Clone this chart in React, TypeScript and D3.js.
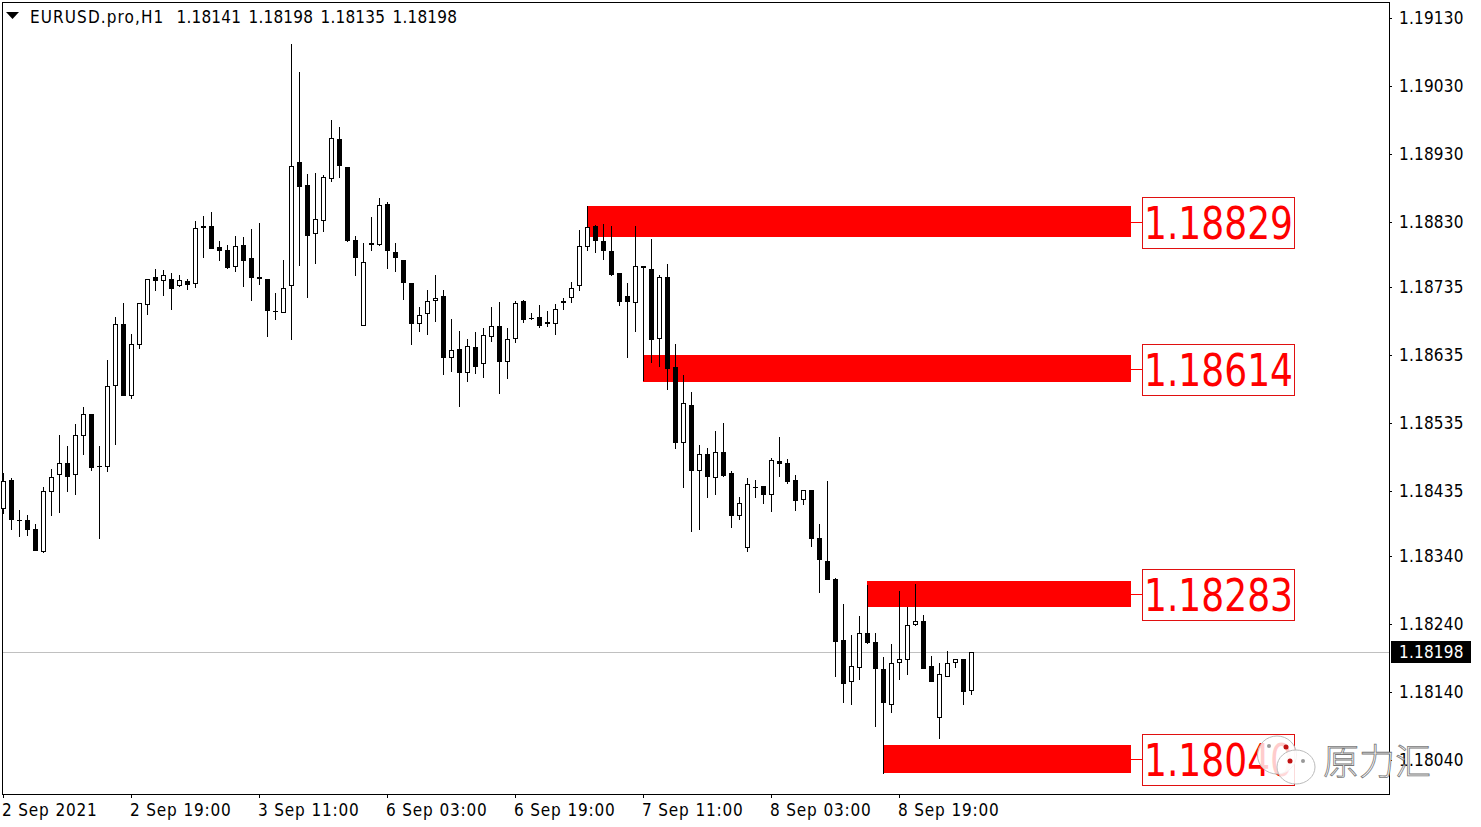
import React from "react";
import * as d3 from "d3";

const symbolName = "EURUSD.pro,H1";
const lastOHLC = [1.18141, 1.18198, 1.18135, 1.18198];
const currentPrice = 1.18198;
const priceTicks = [1.1913, 1.1903, 1.1893, 1.1883, 1.18735, 1.18635, 1.18535, 1.18435, 1.1834, 1.1824, 1.1814, 1.1804];
const timeLabels = ["2 Sep 2021", "2 Sep 19:00", "3 Sep 11:00", "6 Sep 03:00", "6 Sep 19:00", "7 Sep 11:00", "8 Sep 03:00", "8 Sep 19:00"];
const timeLabelBars = [0, 16, 32, 48, 64, 80, 96, 112];

const opens = [
1.18408,1.18451,1.18392,1.18393,1.18379,1.18346,1.18434,1.18458,1.18476,1.18459,1.18516,1.18548,1.18472,1.18471,1.18589,1.18681,1.18574,1.18649,1.18709,1.18749,1.18743,1.18747,1.18736,1.18743,1.18739,1.18822,1.18824,1.18793,1.18789,1.18764,1.18796,1.18778,1.18749,1.18747,1.18700,1.18696,
1.18737,1.18918,1.18885,1.18812,1.18832,1.18894,1.18952,1.18911,1.18804,1.18677,1.18796,1.18797,1.18857,1.18786,1.18775,1.18741,1.18680,1.18695,1.18715,1.18722,1.18630,1.18644,1.18608,1.18647,1.18621,1.18661,1.18678,1.18625,1.18658,1.18714,1.18690,1.18691,1.18680,1.18681,1.18714,
1.18718,1.18737,1.18793,1.18825,1.18803,1.18788,1.18755,1.18721,1.18712,1.18765,1.18762,1.18658,1.18749,1.18617,1.18505,1.18562,1.18464,1.18489,1.18454,1.18492,
1.18461,1.18398,1.18351,1.18441,1.18443,1.18430,1.18479,1.18476,1.18451,1.18422,1.18436,1.18366,1.18332,1.18306,1.18216,1.18154,1.18175,1.18226,1.18213,1.18174,1.18121,1.18182,1.18187,1.18239,1.18244,1.18178,1.18102,1.18162,1.18182,1.18188,1.18141];
const closes = [
1.18450,1.18393,1.18392,1.18378,1.18347,1.18435,1.18455,1.18476,1.18456,1.18517,1.18549,1.18469,1.18472,1.18589,1.18680,1.18574,1.18651,1.18711,1.18746,1.18743,1.18752,1.18732,1.18745,1.18738,1.18821,1.18825,1.18790,1.18788,1.18763,1.18795,1.18773,1.18748,1.18747,1.18699,1.18699,1.18734,
1.18912,1.18882,1.18810,1.18834,1.18897,1.18953,1.18912,1.18802,1.18777,1.18771,1.18799,1.18856,1.18787,1.18777,1.18740,1.18680,1.18693,1.18715,1.18718,1.18630,1.18642,1.18608,1.18648,1.18618,1.18664,1.18677,1.18625,1.18658,1.18712,1.18687,1.18688,1.18677,1.18683,1.18702,1.18712,
1.18734,1.18795,1.18823,1.18803,1.18787,1.18753,1.18713,1.18713,1.18765,1.18763,1.18657,1.18749,1.18615,1.18506,1.18564,1.18465,1.18489,1.18456,1.18492,1.18457,
1.18399,1.18417,1.18445,1.18439,1.18430,1.18480,1.18475,1.18449,1.18421,1.18436,1.18364,1.18334,1.18304,1.18214,1.18152,1.18178,1.18226,1.18212,1.18174,1.18124,1.18182,1.18188,1.18238,1.18244,1.18174,1.18154,1.18167,1.18182,1.18188,1.18140,1.18198];
const highs = [
1.18461,1.18454,1.18407,1.18400,1.18386,1.18441,1.18467,1.18517,1.18502,1.18533,1.18558,1.18548,1.18501,1.18628,1.18691,1.18711,1.18666,1.18712,1.18747,1.18761,1.18760,1.18755,1.18752,1.18746,1.18832,1.18839,1.18845,1.18802,1.18796,1.18810,1.18808,1.18820,1.18829,1.18747,1.18726,1.18774,
1.19092,1.19051,1.18901,1.18902,1.18900,1.18980,1.18970,1.18911,1.18810,1.18799,1.18838,1.18866,1.18859,1.18799,1.18775,1.18741,1.18706,1.18730,1.18753,1.18730,1.18688,1.18670,1.18658,1.18669,1.18674,1.18706,1.18713,1.18675,1.18714,1.18716,1.18697,1.18708,1.18700,1.18710,1.18719,
1.18742,1.18819,1.18854,1.18826,1.18828,1.18824,1.18756,1.18740,1.18824,1.18765,1.18806,1.18752,1.18769,1.18651,1.18606,1.18581,1.18503,1.18498,1.18523,1.18535,
1.18464,1.18426,1.18454,1.18451,1.18443,1.18483,1.18514,1.18482,1.18458,1.18436,1.18436,1.18387,1.18450,1.18307,1.18269,1.18224,1.18252,1.18297,1.18226,1.18191,1.18210,1.18288,1.18265,1.18298,1.18253,1.18193,1.18183,1.18200,1.18188,1.18188,1.18198];
const lows = [
1.18401,1.18378,1.18368,1.18369,1.18347,1.18344,1.18399,1.18403,1.18433,1.18430,1.18488,1.18465,1.18365,1.18463,1.18503,1.18574,1.18571,1.18644,1.18693,1.18729,1.18722,1.18701,1.18735,1.18731,1.18734,1.18778,1.18790,1.18773,1.18762,1.18757,1.18735,1.18715,1.18738,1.18662,1.18687,1.18696,
1.18657,1.18765,1.18718,1.18769,1.18816,1.18889,1.18895,1.18801,1.18751,1.18677,1.18788,1.18795,1.18761,1.18757,1.18716,1.18650,1.18669,1.18664,1.18683,1.18606,1.18610,1.18559,1.18595,1.18607,1.18601,1.18654,1.18578,1.18600,1.18652,1.18682,1.18686,1.18675,1.18676,1.18664,1.18701,
1.18712,1.18729,1.18787,1.18785,1.18775,1.18751,1.18707,1.18630,1.18668,1.18597,1.18623,1.18618,1.18583,1.18497,1.18439,1.18375,1.18378,1.18425,1.18429,1.18456,
1.18381,1.18393,1.18345,1.18425,1.18416,1.18405,1.18455,1.18446,1.18406,1.18414,1.18353,1.18285,1.18304,1.18162,1.18124,1.18121,1.18157,1.18211,1.18089,1.18020,1.18109,1.18157,1.18165,1.18237,1.18174,1.18154,1.18071,1.18162,1.18175,1.18121,1.18135];

const zoneLabels = ["1.18829", "1.18614", "1.18283", "1.18040"];
const zoneTops = [1.18854, 1.18635, 1.18303, 1.18062];
const zoneBottoms = [1.18808, 1.18595, 1.18265, 1.18021];
const zoneStartBars = [73, 80, 108, 110];
const zoneEndBar = 141;

const watermarkText = "原力汇";
const UI = "'DejaVu Sans Condensed','DejaVu Sans',sans-serif";

export default function App() {
  const W = 1481, H = 827;
  const left = 2, top = 2, right = 1389, bottom = 794;
  const x = d3.scaleLinear().domain([0, 1]).range([3.5, 11.5]);
  const y = d3.scaleLinear().domain([1.1804, 1.1913]).range([760, 18]);
  const yr = (p: number) => Math.round(y(p));
  const curY = yr(currentPrice) + 0.5;

  return (
    <svg width={W} height={H} style={{ position: "absolute", left: 0, top: 0, display: "block", background: "#fff" }} shapeRendering="crispEdges">
      <rect x={left + 0.5} y={top + 0.5} width={right - left} height={bottom - top} fill="#fff" stroke="#000" />
      <line x1={left + 1} x2={right} y1={curY} y2={curY} stroke="#c0c0c0" />
      {zoneLabels.map((l, i) => {
        const t = yr(zoneTops[i]), b = yr(zoneBottoms[i]);
        const sx = Math.floor(x(zoneStartBars[i])), ex = Math.floor(x(zoneEndBar));
        return <rect key={l} x={sx} y={t} width={ex - sx} height={b - t} fill="#ff0000" />;
      })}
      {opens.map((o, i) => {
        const c = closes[i];
        const cx = x(i);
        const bull = c > o;
        const t = yr(Math.max(o, c)), b = Math.max(yr(Math.min(o, c)), t + 1);
        return (
          <g key={i}>
            <line x1={cx} x2={cx} y1={yr(highs[i])} y2={yr(lows[i])} stroke="#000" />
            {bull ? (
              <rect x={cx - 2} y={t + 0.5} width={4} height={Math.max(b - t - 1, 1)} fill="#fff" stroke="#000" />
            ) : (
              <rect x={cx - 2.5} y={t} width={5} height={b - t} fill="#000" />
            )}
          </g>
        );
      })}
      {zoneLabels.map((l, i) => {
        const mid = (yr(zoneTops[i]) + yr(zoneBottoms[i])) / 2;
        const bx = 1142, bw = 152, bh = 51;
        const by = Math.round(mid) - 25;
        return (
          <g key={l}>
            <line x1={Math.floor(x(zoneEndBar))} x2={bx} y1={Math.round(mid) + 0.5} y2={Math.round(mid) + 0.5} stroke="#ff0000" />
            <rect x={bx + 0.5} y={by + 0.5} width={bw} height={bh} fill="#fff" stroke="#e01010" />
            <text x={bx + 2} y={by + 42} textLength={149} lengthAdjust="spacingAndGlyphs" fontFamily={UI} fontSize={44} fill="#ff0000">{l}</text>
          </g>
        );
      })}
      {priceTicks.map((p) => (
        <g key={p}>
          <line x1={right} x2={right + 3} y1={yr(p) + 0.5} y2={yr(p) + 0.5} stroke="#000" />
          <text x={1399} y={yr(p) + 6} fontFamily={UI} fontSize={17} letterSpacing={0.2} fill="#000">{p.toFixed(5)}</text>
        </g>
      ))}
      <rect x={1391} y={641} width={80} height={22} fill="#000" />
      <text x={1399} y={658} fontFamily={UI} fontSize={17} letterSpacing={0.2} fill="#fff">{currentPrice.toFixed(5)}</text>
      {timeLabels.map((l, i) => {
        const tx = Math.floor(x(timeLabelBars[i]));
        return (
          <g key={l}>
            <line x1={tx + 0.5} x2={tx + 0.5} y1={bottom} y2={bottom + 4} stroke="#000" />
            <text x={tx - 1} y={816} fontFamily={UI} fontSize={17} letterSpacing={0.85} fill="#000">{l}</text>
          </g>
        );
      })}
      <path d={d3.line()([[6, 12], [19, 12], [12.5, 19]]) + "Z"} fill="#000" shapeRendering="auto" />
      <text x={30} y={23} fontFamily={UI} fontSize={17} letterSpacing={1.1} fill="#000">{symbolName}</text>
      {lastOHLC.map((v, i) => (
        <text key={i} x={176.5 + 72 * i} y={23} fontFamily={UI} fontSize={17} letterSpacing={0.2} fill="#000">{v.toFixed(5)}</text>
      ))}
      <g shapeRendering="auto">
        <ellipse cx={1277} cy={755} rx={19.5} ry={19} fill="#fff" fillOpacity={0.8} stroke="#bbb" />
        <ellipse cx={1296} cy={767} rx={19} ry={17} fill="#fff" fillOpacity={0.85} stroke="#bbb" />
        <circle cx={1269} cy={746} r={2} fill="#999" />
        <circle cx={1286} cy={747} r={2.5} fill="#c01010" />
        <circle cx={1290} cy={761} r={2.5} fill="#c01010" />
        <circle cx={1303} cy={761} r={2} fill="#999" />
        <text x={1323} y={775} fontFamily="'Noto Sans CJK SC'" fontSize={36} fontWeight={300} fill="#fff" stroke="#777" strokeWidth={0.8}>{watermarkText}</text>
      </g>
    </svg>
  );
}
